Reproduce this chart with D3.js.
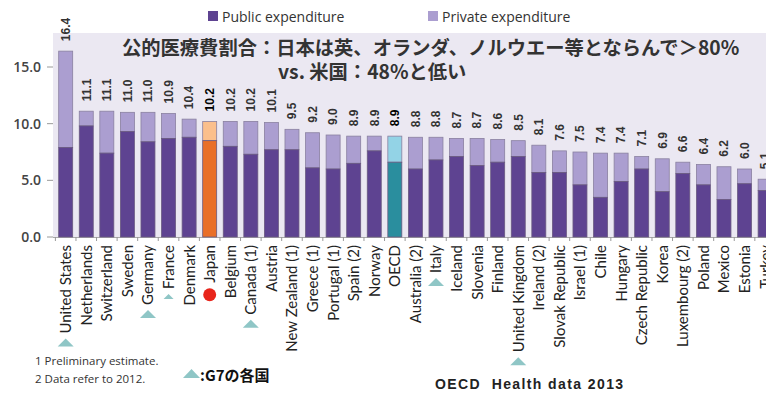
<!DOCTYPE html>
<html>
  <head>
    <meta charset="utf-8">
    <title></title>
    <style>
      body { margin: 0; background: #fff; }
      svg { display: block; }
      .val { font: bold 12px "Liberation Sans", sans-serif; fill: #333; }
      .cat { font: 15px Lato, sans-serif; fill: #222; }
      .ytick { font: 600 14px "Open Sans", sans-serif; fill: #444; }
      .leg { font: 14px "Open Sans", sans-serif; fill: #333; }
      .title { font: bold 19.3px "Noto Sans CJK JP", sans-serif; fill: #333; }
      .note { font: 11.5px "Open Sans", sans-serif; fill: #333; }
    </style>
    <script src="https://cdnjs.cloudflare.com/ajax/libs/d3/7.8.5/d3.min.js"></script>
  </head>
  <body>
    <div id="chart"></div>
    <script>
var countries = ["United States", "Netherlands", "Switzerland", "Sweden", "Germany", "France", "Denmark",
  "Japan", "Belgium", "Canada (1)", "Austria", "New Zealand (1)", "Greece (1)", "Portugal (1)", "Spain (2)",
  "Norway", "OECD", "Australia (2)", "Italy", "Iceland", "Slovenia", "Finland", "United Kingdom",
  "Ireland (2)", "Slovak Republic", "Israel (1)", "Chile", "Hungary", "Czech Republic", "Korea",
  "Luxembourg (2)", "Poland", "Mexico", "Estonia", "Turkey"];
var totals = [16.4, 11.1, 11.1, 11.0, 11.0, 10.9, 10.4, 10.2, 10.2, 10.2, 10.1, 9.5, 9.2, 9.0, 8.9,
  8.9, 8.9, 8.8, 8.8, 8.7, 8.7, 8.6, 8.5, 8.1, 7.6, 7.5, 7.4, 7.4, 7.1, 6.9, 6.6, 6.4, 6.2, 6.0, 5.1];
var publicExp = [7.9, 9.8, 7.4, 9.3, 8.4, 8.7, 8.8, 8.5, 8.0, 7.3, 7.7, 7.7, 6.1, 6.0, 6.5,
  7.6, 6.6, 6.0, 6.8, 7.1, 6.3, 6.6, 7.1, 5.7, 5.7, 4.6, 3.5, 4.9, 6.0, 4.0, 5.6, 4.6, 3.3, 4.7, 4.1];
var yTicks = [0, 5, 10, 15];
var g7 = ["United States", "Germany", "France", "Canada (1)", "Italy", "United Kingdom"];
var titleLines = ["公的医療費割合：日本は英、オランダ、ノルウエー等とならんで＞80%", "vs. 米国：48%と低い"];
var notes = ["1 Preliminary estimate.", "2 Data refer to 2012."];

var W = 766, H = 396;
var colors = {
  pub: "#5e4391", priv: "#ab9ed0",
  japanPub: "#e96f28", japanPriv: "#fbbf8c",
  oecdPub: "#2a8e9e", oecdPriv: "#93d3e6"
};

var data = countries.map(function(c, i) {
  return { name: c, total: totals[i], pub: publicExp[i] };
});

var svg = d3.select("#chart").append("svg").attr("width", W).attr("height", H);

var x = d3.scaleBand().domain(countries).range([55.4, 775.4]).paddingInner(0.32).paddingOuter(0.16);
var y = d3.scaleLinear().domain([0, 15]).range([237, 67]);

// plot background
svg.append("rect").attr("x", 53).attr("y", 33).attr("width", W - 53).attr("height", 205).attr("fill", "#ebe8f2");

// legend
var legend = [["Public expenditure", colors.pub, 208], ["Private expenditure", colors.priv, 428]];
legend.forEach(function(l) {
  svg.append("rect").attr("x", l[2]).attr("y", 11).attr("width", 10).attr("height", 10).attr("fill", l[1]);
  svg.append("text").attr("class", "leg").attr("x", l[2] + 14).attr("y", 21.5).text(l[0]);
});

// y ticks
var ya = svg.append("g");
yTicks.forEach(function(t) {
  ya.append("line").attr("x1", 47).attr("x2", 53).attr("y1", y(t)).attr("y2", y(t)).attr("stroke", "#999");
  ya.append("text").attr("class", "ytick").attr("x", 41).attr("y", y(t)).attr("dy", "0.35em")
    .attr("text-anchor", "end").text(d3.format(".1f")(t));
});

// x axis line + separators
var gap = x.step() * x.paddingInner() / 2;
svg.append("line").attr("x1", 53).attr("x2", W).attr("y1", 237.5).attr("y2", 237.5).attr("stroke", "#aaa");
svg.selectAll(".sep").data(countries).enter().append("line")
  .attr("x1", function(d) { return x(d) - gap; }).attr("x2", function(d) { return x(d) - gap; })
  .attr("y1", 237).attr("y2", 241).attr("stroke", "#999");

function col(d, part) {
  if (d.name === "Japan") return part === "pub" ? colors.japanPub : colors.japanPriv;
  if (d.name === "OECD") return part === "pub" ? colors.oecdPub : colors.oecdPriv;
  return part === "pub" ? colors.pub : colors.priv;
}

var bars = svg.selectAll(".bar").data(data).enter().append("g");
bars.append("rect")
  .attr("x", function(d) { return x(d.name); }).attr("width", x.bandwidth())
  .attr("y", function(d) { return y(d.total); })
  .attr("height", function(d) { return y(d.pub) - y(d.total); })
  .attr("fill", function(d) { return col(d, "priv"); })
  .attr("stroke", "#8a80a0").attr("stroke-width", 0.8);
bars.append("rect")
  .attr("x", function(d) { return x(d.name); }).attr("width", x.bandwidth())
  .attr("y", function(d) { return y(d.pub); })
  .attr("height", function(d) { return y(0) - y(d.pub); })
  .attr("fill", function(d) { return col(d, "pub"); })
  .attr("stroke", "#6a5a80").attr("stroke-width", 0.8);

// value labels
bars.append("text").attr("class", "val")
  .attr("transform", function(d) {
    return "translate(" + (x(d.name) + x.bandwidth() / 2) + "," + (y(d.total) - 10) + ") rotate(-90)";
  })
  .attr("dy", "0.36em")
  .style("fill", function(d) { return d.name === "Japan" || d.name === "OECD" ? "#000" : null; })
  .text(function(d) { return d3.format(".1f")(d.total); });

// category labels
var labels = bars.append("text").attr("class", "cat")
  .attr("transform", function(d) {
    return "translate(" + (x(d.name) + x.bandwidth() / 2) + ",245) rotate(-90)";
  })
  .attr("dy", "0.36em").attr("text-anchor", "end")
  .text(function(d) { return d.name; });

// G7 markers and Japan dot
labels.each(function(d) {
  var len = this.getComputedTextLength();
  var cx = x(d.name) + x.bandwidth() / 2;
  var top = 245 + len + 5;
  if (g7.indexOf(d.name) >= 0) {
    var s = d.name === "France" ? 5 : 8;
    svg.append("path")
      .attr("d", "M" + (cx - s) + "," + (top + s) + "L" + cx + "," + (top) + "L" + (cx + s) + "," + (top + s) + "Z")
      .attr("fill", "#8fc6c6");
  }
  if (d.name === "Japan") {
    svg.append("circle").attr("cx", cx).attr("cy", top + 7).attr("r", 6.5).attr("fill", "#e8251b");
  }
});

// title
svg.append("text").attr("class", "title").attr("x", 122).attr("y", 55).text(titleLines[0]);
svg.append("text").attr("class", "title").attr("x", 278).attr("y", 79).text(titleLines[1]);

// footnotes
notes.forEach(function(n, i) {
  svg.append("text").attr("class", "note").attr("x", 35).attr("y", 365 + i * 18).text(n);
});
svg.append("path").attr("d", "M183,378L191.5,369L200,378Z").attr("fill", "#8fc6c6");
svg.append("text").attr("x", 200).attr("y", 381)
  .style("font", "bold 15px 'Noto Sans CJK JP', sans-serif").style("fill", "#111").text(":G7の各国");
svg.append("text").attr("x", 435).attr("y", 389)
  .style("letter-spacing", "1.4px").style("white-space", "pre")
  .style("font", "bold 14px 'Liberation Sans', sans-serif").style("fill", "#222").text("OECD  Health data 2013");
    </script>
  </body>
</html>
